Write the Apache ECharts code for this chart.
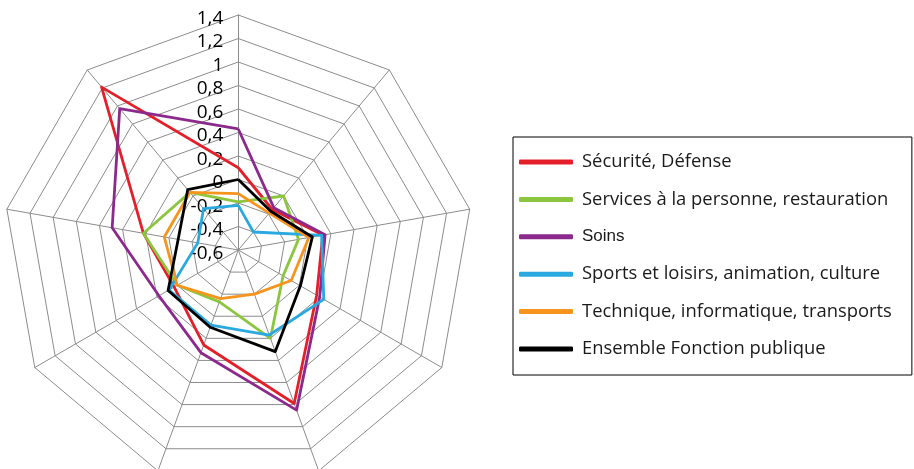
<!DOCTYPE html>
<html>
<head>
<meta charset="utf-8">
<script src="https://cdn.jsdelivr.net/npm/echarts@6/dist/echarts.min.js"></script>
<style>
  html, body { margin:0; padding:0; background:#fff; }
  #radarChart { width:914px; height:469px; }
</style>
</head>
<body>
<div id="radarChart"></div>
<script>
// axes read clockwise from the top (Excel order)
var axisCount = 9;
var axisMin = -0.6;
var axisMax = 1.4;

var seriesNames = [
	'Sécurité, Défense',
	'Services à la personne, restauration',
	'Soins',
	'Sports et loisirs, animation, culture',
	'Technique, informatique, transports',
	'Ensemble Fonction publique'
];
var seriesColors = ['#e3202a', '#8cc63f', '#8b2a8c', '#29a9e0', '#f7941d', '#000000'];

var securite  = [0.10, -0.15, 0.13, 0.17, 0.79, 0.26, 0.03, 0.22, 1.21];
var services  = [-0.19, 0.00, -0.08, -0.16, 0.20, -0.13, 0.00, 0.22, 0.04];
var soins     = [0.43, -0.13, 0.15, 0.20, 0.85, 0.33, 0.18, 0.49, 0.97];
var sports    = [-0.22, -0.40, 0.12, 0.24, 0.17, 0.08, 0.08, -0.25, -0.14];
var technique = [-0.12, -0.19, 0.01, -0.08, -0.20, -0.16, 0.00, 0.04, 0.04];
var ensemble  = [0.00, -0.17, 0.04, 0.01, 0.32, 0.10, 0.09, -0.08, 0.07];

var allValues = [securite, services, soins, sports, technique, ensemble];

// echarts runs its indicators counter-clockwise, so flip the order after the first one
function toEchartsOrder(arr) {
	var out = [arr[0]];
	for (var i = arr.length - 1; i > 0; i--) out.push(arr[i]);
	return out;
}

var labelStyle = {
	show: true,
	fontFamily: 'Open Sans',
	fontSize: 19,
	color: '#000',
	margin: 15,
	rich: {
		v: { fontFamily: 'Open Sans', fontSize: 19, color: '#000', padding: [7, 0, 0, 0] }
	},
	formatter: function (v) {
		return '{v|' + String(Math.round(v * 10) / 10).replace('.', ',') + '}';
	}
};

var indicators = [];
for (var i = 0; i < axisCount; i++) {
	indicators.push({
		name: '',
		min: axisMin,
		max: axisMax,
		axisLabel: i === 0 ? labelStyle : { show: false }
	});
}

var radarChart = echarts.init(document.getElementById('radarChart'));

var radaroption = {
	animation: false,
	legend: {
		orient: 'vertical',
		left: 513,
		top: 137,
		padding: [15, 20, 16, 6],
		borderColor: '#000',
		borderWidth: 1,
		itemWidth: 54,
		itemHeight: 5,
		itemGap: 17.4,
		icon: 'roundRect',
		textStyle: {
			fontFamily: 'Open Sans',
			fontSize: 18.4,
			lineHeight: 20,
			color: '#1a1a1a',
			padding: [0, 0, 0, 4],
			rich: {
				arial: { fontFamily: 'Liberation Sans', fontSize: 17, color: '#1a1a1a' }
			}
		},
		formatter: function (name) {
			return name === 'Soins' ? '{arial|' + name + '}' : name;
		},
		data: seriesNames
	},
	radar: {
		center: [238.3, 250],
		radius: 235,
		startAngle: 90,
		shape: 'polygon',
		splitNumber: 10,
		indicator: indicators,
		axisName: { show: false },
		axisLine: { lineStyle: { color: '#8c8c8c', width: 1 } },
		splitLine: { lineStyle: { color: '#8c8c8c', width: 1 } },
		splitArea: { show: false },
		axisTick: { show: false },
		axisLabel: labelStyle
	},
	series: [{
		type: 'radar',
		symbol: 'none',
		data: allValues.map(function (vals, k) {
			return {
				name: seriesNames[k],
				value: toEchartsOrder(vals),
				lineStyle: { color: seriesColors[k], width: 2.8 },
				itemStyle: { color: seriesColors[k] }
			};
		})
	}]
};

radarChart.setOption(radaroption);
</script>
</body>
</html>
